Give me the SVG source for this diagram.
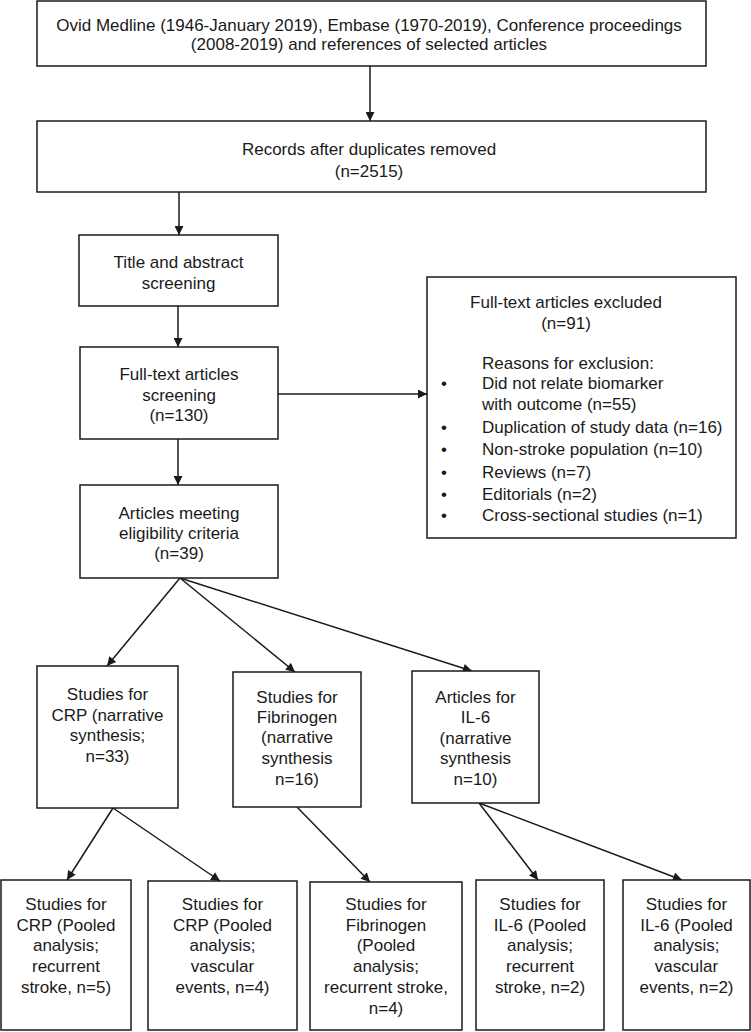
<svg xmlns="http://www.w3.org/2000/svg" width="751" height="1032" viewBox="0 0 751 1032">
<defs>
<style>
.box{fill:#fff;stroke:#1a1a1a;stroke-width:1.5}
.t{font-family:"Liberation Sans",Arial,sans-serif;font-size:17px;fill:#1a1a1a;text-anchor:middle}
.l{font-family:"Liberation Sans",Arial,sans-serif;font-size:17px;fill:#1a1a1a}
.c{stroke:#1a1a1a;stroke-width:1.5;fill:none;marker-end:url(#ah)}
</style>
<marker id="ah" viewBox="0 0 10 10" refX="10" refY="5" markerWidth="10" markerHeight="9" markerUnits="userSpaceOnUse" orient="auto">
<path d="M0,0 L10,5 L0,10 z" fill="#1a1a1a"/>
</marker>
</defs>
<rect width="751" height="1032" fill="#fff"/>
<g id="connectors">
<line class="c" x1="370" y1="66" x2="370" y2="121"/>
<line class="c" x1="179" y1="192" x2="179" y2="235"/>
<line class="c" x1="178" y1="306" x2="178" y2="347"/>
<line class="c" x1="178" y1="439" x2="178" y2="485"/>
<line class="c" x1="278" y1="394" x2="427" y2="394"/>
<line class="c" x1="180" y1="578" x2="107" y2="666"/>
<line class="c" x1="180" y1="578" x2="295" y2="672"/>
<line class="c" x1="180" y1="578" x2="472" y2="671"/>
<line class="c" x1="113" y1="808" x2="67" y2="880"/>
<line class="c" x1="113" y1="808" x2="220" y2="881"/>
<line class="c" x1="297" y1="807" x2="370" y2="882"/>
<line class="c" x1="479" y1="803" x2="538" y2="880"/>
<line class="c" x1="479" y1="803" x2="682" y2="880"/>
</g>
<g id="n-sources">
<rect class="box" x="37" y="1" width="669" height="65"/>
<text class="t" x="369" y="31">Ovid Medline (1946-January 2019), Embase (1970-2019), Conference proceedings</text>
<text class="t" x="369" y="50">(2008-2019) and references of selected articles</text>
</g>
<g id="n-records">
<rect class="box" x="37" y="121" width="669" height="71"/>
<text class="t" x="369" y="155">Records after duplicates removed</text>
<text class="t" x="369" y="177">(n=2515)</text>
</g>
<g id="n-title">
<rect class="box" x="79" y="235" width="199" height="71"/>
<text class="t" x="178.5" y="268">Title and abstract</text>
<text class="t" x="178.5" y="289">screening</text>
</g>
<g id="n-fulltext">
<rect class="box" x="80" y="347" width="198" height="92"/>
<text class="t" x="179" y="380">Full-text articles</text>
<text class="t" x="179" y="401">screening</text>
<text class="t" x="179" y="421">(n=130)</text>
</g>
<g id="n-excluded">
<rect class="box" x="427" y="277" width="309" height="261"/>
<text class="t" x="566" y="308">Full-text articles excluded</text>
<text class="t" x="566" y="329">(n=91)</text>
<text class="l" x="482" y="369">Reasons for exclusion:</text>
<text class="t" x="444" y="389">•</text>
<text class="l" x="482" y="389">Did not relate biomarker</text>
<text class="l" x="482" y="410">with outcome (n=55)</text>
<text class="t" x="444" y="433">•</text>
<text class="l" x="482" y="433">Duplication of study data (n=16)</text>
<text class="t" x="444" y="455">•</text>
<text class="l" x="482" y="455">Non-stroke population (n=10)</text>
<text class="t" x="444" y="478">•</text>
<text class="l" x="482" y="478">Reviews (n=7)</text>
<text class="t" x="444" y="500">•</text>
<text class="l" x="482" y="500">Editorials (n=2)</text>
<text class="t" x="444" y="521">•</text>
<text class="l" x="482" y="521">Cross-sectional studies (n=1)</text>
</g>
<g id="n-eligible">
<rect class="box" x="80" y="485" width="198" height="93"/>
<text class="t" x="179" y="519">Articles meeting</text>
<text class="t" x="179" y="539">eligibility criteria</text>
<text class="t" x="179" y="559">(n=39)</text>
</g>
<g id="n-crp">
<rect class="box" x="37" y="666" width="141" height="142"/>
<text class="t" x="107.5" y="700">Studies for</text>
<text class="t" x="107.5" y="721">CRP (narrative</text>
<text class="t" x="107.5" y="741">synthesis;</text>
<text class="t" x="107.5" y="762">n=33)</text>
</g>
<g id="n-fib">
<rect class="box" x="233" y="672" width="128" height="135"/>
<text class="t" x="297" y="703">Studies for</text>
<text class="t" x="297" y="723">Fibrinogen</text>
<text class="t" x="297" y="743">(narrative</text>
<text class="t" x="297" y="764">synthesis</text>
<text class="t" x="297" y="785">n=16)</text>
</g>
<g id="n-il6">
<rect class="box" x="412" y="671" width="127" height="132"/>
<text class="t" x="475.5" y="703">Articles for</text>
<text class="t" x="475.5" y="723">IL-6</text>
<text class="t" x="475.5" y="744">(narrative</text>
<text class="t" x="475.5" y="764">synthesis</text>
<text class="t" x="475.5" y="785">n=10)</text>
</g>
<g id="n-crp-stroke">
<rect class="box" x="1" y="880" width="130" height="150"/>
<text class="t" x="66" y="910">Studies for</text>
<text class="t" x="66" y="931">CRP (Pooled</text>
<text class="t" x="66" y="951">analysis;</text>
<text class="t" x="66" y="972">recurrent</text>
<text class="t" x="66" y="993">stroke, n=5)</text>
</g>
<g id="n-crp-vasc">
<rect class="box" x="148" y="881" width="149" height="149"/>
<text class="t" x="222.5" y="910">Studies for</text>
<text class="t" x="222.5" y="931">CRP (Pooled</text>
<text class="t" x="222.5" y="951">analysis;</text>
<text class="t" x="222.5" y="972">vascular</text>
<text class="t" x="222.5" y="993">events, n=4)</text>
</g>
<g id="n-fib-stroke">
<rect class="box" x="310" y="882" width="152" height="148"/>
<text class="t" x="386" y="910">Studies for</text>
<text class="t" x="386" y="931">Fibrinogen</text>
<text class="t" x="386" y="951">(Pooled</text>
<text class="t" x="386" y="972">analysis;</text>
<text class="t" x="386" y="993">recurrent stroke,</text>
<text class="t" x="386" y="1014">n=4)</text>
</g>
<g id="n-il6-stroke">
<rect class="box" x="476" y="880" width="128" height="150"/>
<text class="t" x="540" y="910">Studies for</text>
<text class="t" x="540" y="931">IL-6 (Pooled</text>
<text class="t" x="540" y="951">analysis;</text>
<text class="t" x="540" y="972">recurrent</text>
<text class="t" x="540" y="993">stroke, n=2)</text>
</g>
<g id="n-il6-vasc">
<rect class="box" x="623" y="880" width="127" height="150"/>
<text class="t" x="686.5" y="910">Studies for</text>
<text class="t" x="686.5" y="931">IL-6 (Pooled</text>
<text class="t" x="686.5" y="951">analysis;</text>
<text class="t" x="686.5" y="972">vascular</text>
<text class="t" x="686.5" y="993">events, n=2)</text>
</g>
</svg>
